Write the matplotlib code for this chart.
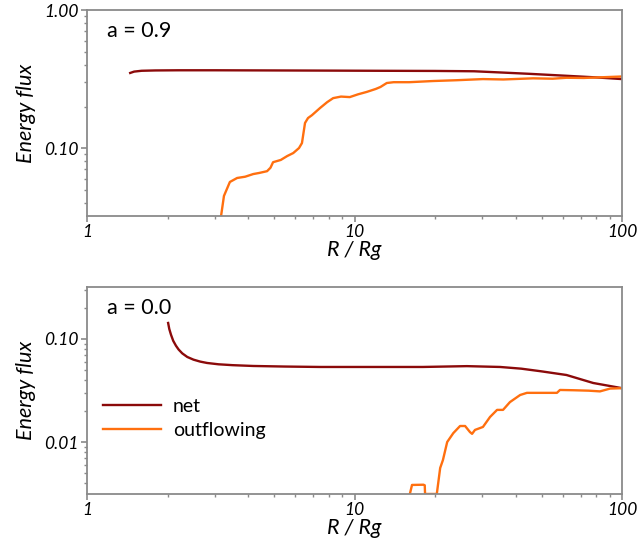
import numpy as np
import matplotlib
matplotlib.use("Agg")
import matplotlib.pyplot as plt
from matplotlib.ticker import FixedLocator, FixedFormatter, LogLocator, NullFormatter

# ---------- data ----------
# a = 0.9
r_net_09 = [1.45, 1.5, 1.6, 1.8, 2.2, 3.0, 5.0, 8.0, 12.0, 20.0, 28.0, 35.0, 45.0, 60.0, 80.0, 100.0]
f_net_09 = [0.350, 0.358, 0.363, 0.365, 0.366, 0.366, 0.365, 0.364, 0.363, 0.362, 0.360, 0.353, 0.345, 0.335, 0.325, 0.316]

r_out_09 = [3.17, 3.25, 3.42, 3.64, 3.9, 4.18, 4.4, 4.71, 4.85, 4.96, 5.3, 5.6, 5.9, 6.2, 6.36,
            6.45, 6.53, 6.7, 6.93, 7.43, 7.9, 8.32, 8.9, 9.6, 10.3, 11.1, 12.0, 12.5, 13.2, 14.0,
            16.0, 19.7, 24.0, 30.2, 36.0, 46.5, 55.0, 62.0, 72.0, 85.0, 100.0]
f_out_09 = [0.0322, 0.045, 0.0568, 0.0607, 0.062, 0.0648, 0.066, 0.068, 0.072, 0.079, 0.082, 0.0875, 0.092, 0.1, 0.1087,
            0.13, 0.152, 0.165, 0.173, 0.195, 0.215, 0.230, 0.236, 0.234, 0.245, 0.255, 0.268, 0.277, 0.296, 0.300,
            0.300, 0.306, 0.310, 0.316, 0.314, 0.320, 0.318, 0.323, 0.322, 0.326, 0.330]

# a = 0.0
r_net_00 = [2.01, 2.03, 2.06, 2.1, 2.15, 2.2, 2.27, 2.37, 2.5, 2.65, 2.81, 3.1, 3.5, 4.18, 5.5, 7.43,
            11.1, 18.0, 26.3, 35.0, 42.0, 50.0, 62.0, 78.0, 100.0]
f_net_00 = [0.143, 0.125, 0.110, 0.096, 0.086, 0.079, 0.0725, 0.0669, 0.0630, 0.0603, 0.0585, 0.0568, 0.0557, 0.0547, 0.0540, 0.0535,
            0.0535, 0.0535, 0.0545, 0.0535, 0.0515, 0.0485, 0.0447, 0.0374, 0.0333]

r_out_00 = [16.1, 16.4, 18.1, 18.3, 18.35, 20.3, 20.9, 21.4, 22.2, 23.4, 24.8, 25.9, 27.0, 27.5, 28.2,
            30.2, 32.1, 34.1, 35.9, 38.1, 41.6, 44.1, 50.0, 57.1, 58.6, 66.0, 75.0, 82.7, 90.2, 100.0]
f_out_00 = [0.00313, 0.00383, 0.00385, 0.0038, 0.00313, 0.00313, 0.0056, 0.00668, 0.0100, 0.0122, 0.0143, 0.0143, 0.0125, 0.0120, 0.0131,
            0.0140, 0.0175, 0.0205, 0.0205, 0.0244, 0.0286, 0.0300, 0.0300, 0.0300, 0.0320, 0.0318, 0.0315, 0.0310, 0.0330, 0.0333]

c_net = "#8b0a0a"
c_out = "#ff6f0f"
grey = "#8a8a8a"

plt.rcParams['font.family'] = ['Lato', 'DejaVu Sans']

fig = plt.figure(figsize=(6.38, 5.42), dpi=100)
ax1 = fig.add_axes([0.1364, 0.6015, 0.8386, 0.38])
ax2 = fig.add_axes([0.1364, 0.0886, 0.8386, 0.382])


def style(ax, ylim, yticks, ylabels):
    ax.set_xscale("log")
    ax.set_yscale("log")
    ax.set_xlim(1, 100)
    ax.set_ylim(*ylim)
    for s in ax.spines.values():
        s.set_color(grey)
        s.set_linewidth(1.3)
    ax.xaxis.set_major_locator(FixedLocator([1, 10, 100]))
    ax.xaxis.set_major_formatter(FixedFormatter(["1", "10", "100"]))
    ax.xaxis.set_minor_locator(LogLocator(base=10, subs=np.arange(2, 10)))
    ax.xaxis.set_minor_formatter(NullFormatter())
    ax.yaxis.set_major_locator(FixedLocator(yticks))
    ax.yaxis.set_major_formatter(FixedFormatter(ylabels))
    ax.yaxis.set_minor_locator(LogLocator(base=10, subs=np.arange(2, 10)))
    ax.yaxis.set_minor_formatter(NullFormatter())
    ax.tick_params(which="major", direction="out", length=4, width=1.2, color=grey,
                   labelsize=12.5, pad=2)
    ax.tick_params(which="minor", direction="out", length=2.5, width=1.0, color=grey)
    for lab in ax.get_xticklabels() + ax.get_yticklabels():
        lab.set_fontstyle("italic")
    ax.set_xlabel("R / Rg", fontsize=15.5, style="italic", labelpad=0)
    ax.set_ylabel("Energy flux", fontsize=15.5, style="italic", labelpad=6)


ax1.plot(r_net_09, f_net_09, color=c_net, lw=1.7)
ax1.plot(r_out_09, f_out_09, color=c_out, lw=1.7)
style(ax1, (0.0322, 1.0), [0.1, 1.0], ["0.10", "1.00"])
ax1.text(0.037, 0.9, "a = 0.9", transform=ax1.transAxes, fontsize=15.5, va="center")

ax2.plot(r_net_00, f_net_00, color=c_net, lw=1.7, label="net")
ax2.plot(r_out_00, f_out_00, color=c_out, lw=1.7, label="outflowing")
style(ax2, (0.00313, 0.32), [0.01, 0.1], ["0.01", "0.10"])
ax2.text(0.037, 0.9, "a = 0.0", transform=ax2.transAxes, fontsize=15.5, va="center")
ax2.legend(loc="center left", bbox_to_anchor=(0.03, 0.365), frameon=False, fontsize=14,
           handlelength=3.0, handletextpad=0.6, labelspacing=0.35, borderpad=0,
           borderaxespad=0)

fig.savefig("out.png", dpi=100)
